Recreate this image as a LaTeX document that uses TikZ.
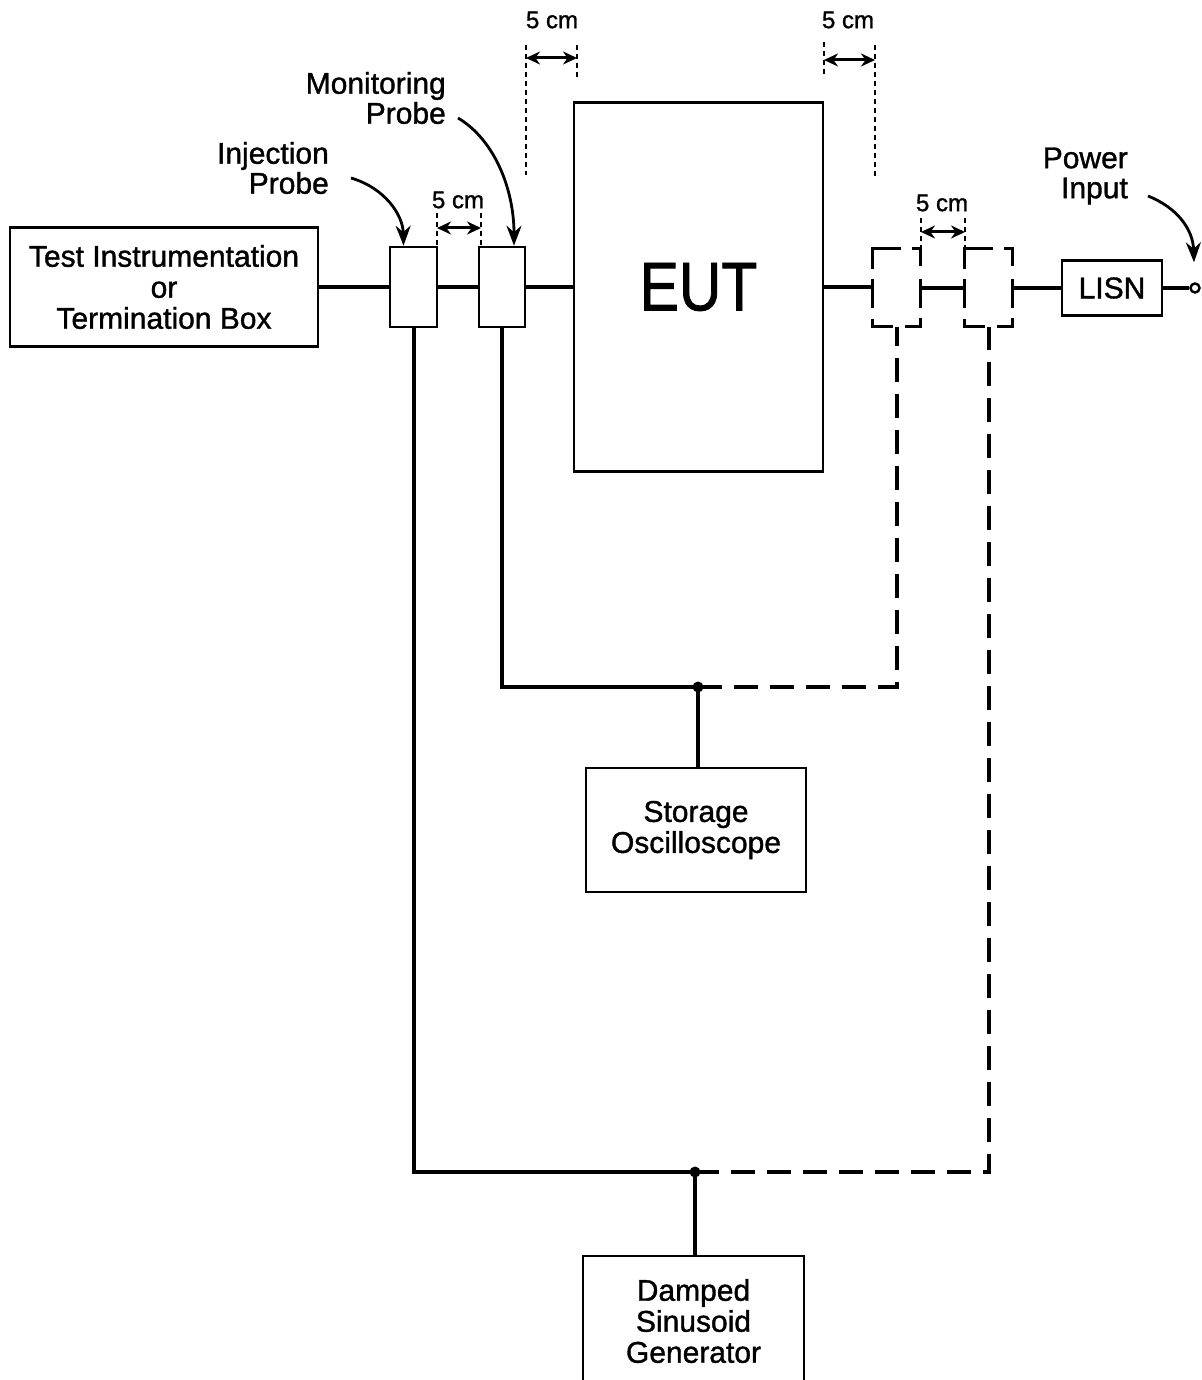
\documentclass[tikz,border=0pt]{standalone}
\usepackage{fontspec}
\setmainfont{Liberation Sans}[FakeBold=1.2]
\usetikzlibrary{arrows.meta,calc}
\begin{document}
\begin{tikzpicture}[x=1pt,y=-1pt,
 box/.style={draw,line width=2.6pt,inner sep=0pt,align=center,font=\fontsize{30}{31}\selectfont},
 probe/.style={draw,line width=2.6pt,inner sep=0pt},
 dprobe/.style={inner sep=0pt,minimum width=48pt,minimum height=78pt},
 dbox/.style={line width=3pt},
 wire/.style={line width=4pt},
 dwire/.style={line width=3.2pt,dash pattern=on 24pt off 12pt},
 dimline/.style={line width=2.2pt,dash pattern=on 5pt off 4pt},
 dimarrow/.style={line width=3pt,{Stealth[length=14pt,width=13pt]}-{Stealth[length=14pt,width=13pt]}},
 callout/.style={line width=2.8pt,-{Stealth[length=20pt,width=15pt]}},
 lbl/.style={font=\fontsize{30}{30}\selectfont,align=right,inner sep=0pt},
 cmlbl/.style={font=\fontsize{24}{25}\selectfont,inner sep=0pt},
]
\useasboundingbox (0,0) rectangle (1201,1380);
\clip (0,0) rectangle (1201,1380);

% main blocks
\node[box,minimum width=308pt,minimum height=119pt] (test) at (164,287) {Test Instrumentation\\or\\Termination Box};
\node[probe,minimum width=47pt,minimum height=80pt] (inj) at (413.5,287) {};
\node[probe,minimum width=46pt,minimum height=80pt] (mon) at (502,287) {};
\node[box,minimum width=249pt,minimum height=369pt,font=\fontsize{60}{64}\selectfont] (eut) at (698.5,287) {\scalebox{0.98}[1.15]{EUT}};
\node[dprobe] (dp1) at (897,288) {};
\node[dprobe] (dp2) at (989,288) {};
\node[box,minimum width=100pt,minimum height=55pt] (lisn) at (1112,288) {LISN};
\node[draw,circle,line width=2.4pt,minimum size=9pt,inner sep=0pt] (term) at (1195,288) {};
\node[box,minimum width=220pt,minimum height=124pt] (osc) at (696,830) {Storage\\Oscilloscope};
\node[box,minimum width=221pt,minimum height=130pt] (gen) at (693.5,1321) {Damped\\Sinusoid\\Generator};

% dashed (alternative) probe positions
\foreach \n in {dp1,dp2}{
  \begin{scope}[shift={(\n.north west)}]
    \draw[dbox] (0,20) -- (0,0) -- (28,0);
    \draw[dbox] (39,0) -- (48,0) -- (48,17);
    \draw[dbox] (0,30) -- (0,59);
    \draw[dbox] (48,30) -- (48,59);
    \draw[dbox] (0,70) -- (0,78) -- (20,78);
    \draw[dbox] (32,78) -- (48,78) -- (48,69);
  \end{scope}
}

% junctions
\coordinate (j1) at (698,687);
\coordinate (j2) at (695,1172);

% main line
\draw[wire] (test.east) -- (inj.west |- test.east);
\draw[wire] (inj.east) -- (mon.west);
\draw[wire] (mon.east) -- (eut.west);
\draw[wire] (eut.east) -- (eut.east -| dp1.west);
\draw[wire] (dp1.east) -- (dp2.west);
\draw[wire] (dp2.east) -- (lisn.west);
\draw[wire] (lisn.east) -- (term.west);

% probe leads
\draw[wire] (mon.south) |- (j1);
\draw[dwire] (j1) -| (dp1.south);
\draw[wire] (j1) -- (j1 |- osc.north);
\fill (j1) circle (5.5);
\draw[wire] (inj.south) |- (j2);
\draw[dwire] (j2) -| (dp2.south);
\draw[wire] (j2) -- (j2 |- gen.north);
\fill (j2) circle (5.5);

% dimensions
\draw[dimline] (526,45) -- (526,175);
\draw[dimline] (577,45) -- (577,78);
\draw[dimarrow] (526,58) -- (577,58);
\node[cmlbl] (c1) at (552,20) {5 cm};

\draw[dimline] (824,42) -- (824,78);
\draw[dimline] (875,45) -- (875,178);
\draw[dimarrow] (824,60) -- (875,60);
\node[cmlbl] (c2) at (848,20) {5 cm};

\draw[dimline] (437,213) -- (437,246);
\draw[dimline] (481,213) -- (481,246);
\draw[dimarrow] (437,228) -- (481,228);
\node[cmlbl] (c3) at (458,200) {5 cm};

\draw[dimline] (921,218) -- (921,248);
\draw[dimline] (965,218) -- (965,248);
\draw[dimarrow] (921,232) -- (965,232);
\node[cmlbl] (c4) at (942,203) {5 cm};

% callouts
\node[lbl,anchor=east] (monl) at (446,98) {Monitoring\\Probe};
\node[lbl,anchor=east] (injl) at (329,168) {Injection\\Probe};
\node[lbl,anchor=east] (pwrl) at (1128,176) {Power\\Input};
\draw[callout] ($(monl.east)+(12,20)$) .. controls (495,140) and (514,190) .. ($(mon.north)+(12,0)$);
\draw[callout] ($(injl.east)+(22,10)$) .. controls (385,188) and (403,215) .. ($(inj.north)+(-10,0)$);
\draw[callout] ($(pwrl.east)+(20,20)$) .. controls (1178,208) and (1193,230) .. ($(term.north)+(-1,-20)$);
\end{tikzpicture}
\end{document}
